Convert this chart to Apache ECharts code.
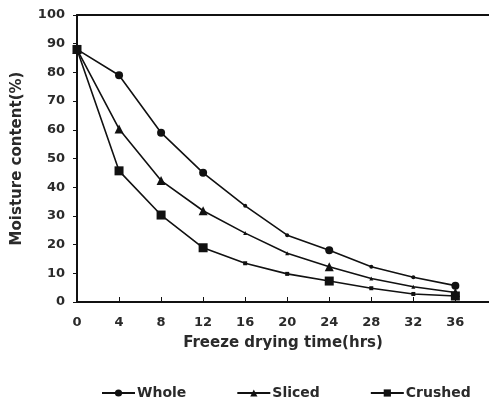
<!DOCTYPE html>
<html>
<head>
<meta charset="utf-8">
<script src="https://cdn.jsdelivr.net/npm/echarts@6/dist/echarts.min.js"></script>
<style>
  html, body { margin: 0; padding: 0; background: #fff; }
  #chart { width: 489px; height: 401px; }
</style>
</head>
<body>
<div id="chart"></div>
<script>
// drying time (hrs)
const hours = [0, 4, 8, 12, 16, 20, 24, 28, 32, 36]
// hours that get a full marker, the rest are small dots
const markedHours = [0, 4, 8, 12, 24, 36]
const whole = [88, 79, 59, 45, 33.5, 23.3, 18, 12.3, 8.6, 5.7]
const sliced = [88, 60.3, 42.3, 31.8, 24, 17, 12.3, 8.2, 5.3, 3.3]
const crushed = [88, 45.7, 30.3, 18.9, 13.5, 9.8, 7.3, 4.8, 2.8, 2.1]

const font = 'DejaVu Sans, Verdana, sans-serif'
const textColor = '#2a2a2a'

function buildPoints(values, size) {
  return values.map((v, i) => {
    const marked = markedHours.indexOf(hours[i]) >= 0
    return {
      value: [hours[i], v],
      symbolSize: marked ? size : 4
    }
  })
}

function lineSeries(name, symbol, size, values) {
  return {
    name: name,
    type: 'line',
    symbol: symbol,
    symbolSize: size,
    showAllSymbol: true,
    data: buildPoints(values, size),
    lineStyle: { color: '#111', width: 1.6 },
    itemStyle: { color: '#111', borderWidth: 0 },
    emphasis: { disabled: true },
    animation: false
  }
}

const chart = echarts.init(document.getElementById('chart'))
chart.setOption({
  backgroundColor: '#fff',
  textStyle: { fontFamily: font, fontWeight: 'bold' },
  grid: { left: 77, right: 0, top: 15, bottom: 99, outerBoundsMode: 'none', containLabel: false },
  legend: {
    top: 381,
    left: 96,
    itemGap: 50,
    itemWidth: 33,
    itemHeight: 9,
    textStyle: { fontSize: 14, color: textColor, fontWeight: 'bold', fontFamily: font, padding: [0, 0, 0, -3] },
    data: ['Whole', 'Sliced', 'Crushed']
  },
  xAxis: [
    {
      type: 'value',
      min: 0,
      max: 39.2,
      interval: 4,
      name: 'Freeze drying time(hrs)',
      nameLocation: 'middle',
      nameGap: 34,
      nameTextStyle: { fontSize: 15, color: textColor, fontWeight: 'bold' },
      axisLine: { lineStyle: { color: '#111', width: 2 } },
      axisTick: { inside: true, length: 5, lineStyle: { color: '#111' } },
      axisLabel: { fontSize: 13, color: textColor, fontWeight: 'bold', margin: 14, showMaxLabel: false },
      splitLine: { show: false }
    },
    {
      type: 'value',
      position: 'top',
      min: 0,
      max: 39.2,
      axisLine: { show: true, onZero: false, lineStyle: { color: '#111', width: 2 } },
      axisTick: { show: false },
      axisLabel: { show: false },
      splitLine: { show: false }
    }
  ],
  yAxis: {
    type: 'value',
    min: 0,
    max: 100,
    interval: 10,
    name: 'Moisture content(%)',
    nameLocation: 'middle',
    nameGap: 52,
    nameTextStyle: { fontSize: 15, color: textColor, fontWeight: 'bold' },
    axisLine: { show: true, lineStyle: { color: '#111', width: 2 } },
    axisTick: { show: true, length: 4, lineStyle: { color: '#111' } },
    axisLabel: { fontSize: 13, color: textColor, fontWeight: 'bold', margin: 12 },
    splitLine: { show: false }
  },
  series: [
    lineSeries('Whole', 'circle', 8, whole),
    lineSeries('Sliced', 'triangle', 9, sliced),
    lineSeries('Crushed', 'rect', 9, crushed)
  ]
})
</script>
</body>
</html>
